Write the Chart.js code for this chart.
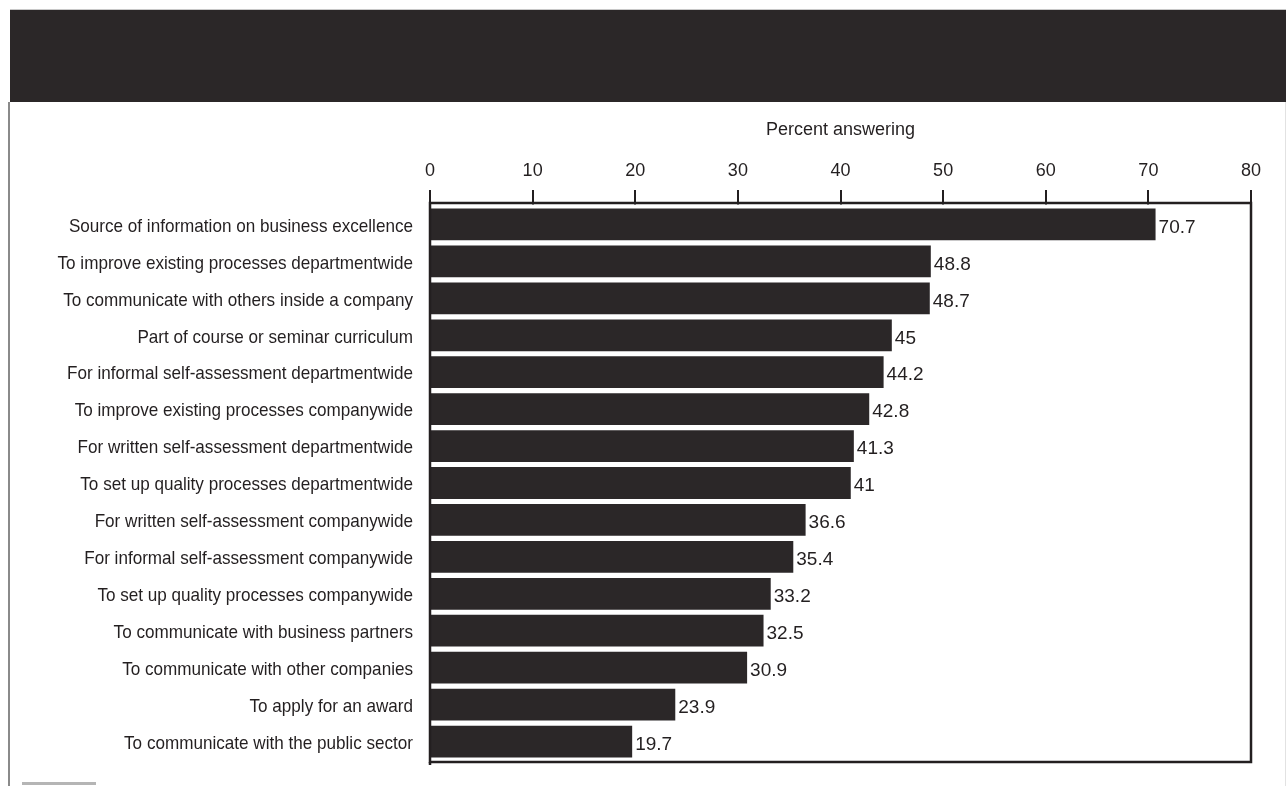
<!DOCTYPE html>
<html>
<head>
<meta charset="utf-8">
<script src="https://cdn.jsdelivr.net/npm/chart.js@4"></script>
<style>
  html, body { margin: 0; padding: 0; background: #fff; }
  body { width: 1286px; height: 786px; position: relative; overflow: hidden; }
  #band { position: absolute; left: 10px; top: 10px; width: 1276px; height: 92px; background: #2b2728; }
  #topline { position: absolute; left: 10px; top: 9px; width: 1276px; height: 1px; background: #c8c8c8; }
  #leftline { position: absolute; left: 8px; top: 102px; width: 2px; height: 684px; background: #8a8a8a; }
  #rightline { position: absolute; left: 1285px; top: 102px; width: 1px; height: 684px; background: #e2e2e2; }
  #stub { position: absolute; left: 22px; top: 782px; width: 74px; height: 3px; background: #b5b5b5; }
  #wrap { position: absolute; left: 10px; top: 102px; width: 1276px; height: 684px; }
</style>
</head>
<body>
<div id="topline"></div>
<div id="band"></div>
<div id="leftline"></div>
<div id="rightline"></div>
<div id="stub"></div>
<div id="wrap"><canvas id="chart"></canvas></div>
<script>
// Percent answering, by reason for use
const categories = [
  'Source of information on business excellence',
  'To improve existing processes departmentwide',
  'To communicate with others inside a company',
  'Part of course or seminar curriculum',
  'For informal self-assessment departmentwide',
  'To improve existing processes companywide',
  'For written self-assessment departmentwide',
  'To set up quality processes departmentwide',
  'For written self-assessment companywide',
  'For informal self-assessment companywide',
  'To set up quality processes companywide',
  'To communicate with business partners',
  'To communicate with other companies',
  'To apply for an award',
  'To communicate with the public sector'
];
const percents = [70.7, 48.8, 48.7, 45, 44.2, 42.8, 41.3, 41, 36.6, 35.4, 33.2, 32.5, 30.9, 23.9, 19.7];
const xTicks = [0, 10, 20, 30, 40, 50, 60, 70, 80];
const axisTitle = 'Percent answering';

const INK = '#231f20';
const BAR = '#2b2728';
const FONT = '"Liberation Sans", Arial, Helvetica, sans-serif';

// condensed category labels, numbers at bar ends, box round the plot
const labelsAndFrame = {
  id: 'labelsAndFrame',
  afterDatasetsDraw(chart) {
    const { ctx } = chart;
    const meta = chart.getDatasetMeta(0);
    ctx.save();
    ctx.fillStyle = INK;
    ctx.font = '19px ' + FONT;
    ctx.textAlign = 'left';
    ctx.textBaseline = 'middle';
    meta.data.forEach((bar, i) => {
      ctx.fillText(String(percents[i]), bar.x + 3, bar.y + 3);
    });
    ctx.restore();
  },
  afterDraw(chart) {
    const { ctx, chartArea: a } = chart;
    const yScale = chart.scales.y;

    ctx.save();
    ctx.fillStyle = INK;
    ctx.font = '19px ' + FONT;
    ctx.textAlign = 'right';
    ctx.textBaseline = 'middle';
    categories.forEach((c, i) => {
      const py = yScale.getPixelForTick(i);
      ctx.save();
      ctx.translate(yScale.right - 17, py + 2);
      ctx.scale(0.9, 1);
      ctx.fillText(c, 0, 0);
      ctx.restore();
    });

    // gap between the top rule and the first bar
    ctx.fillStyle = '#fff';
    ctx.fillRect(a.left + 2, a.top - 1.5, a.right - a.left - 4, 2.5);

    const top = a.top - 3, bottom = a.bottom + 2;
    ctx.strokeStyle = INK;
    ctx.lineWidth = 2.5;
    ctx.strokeRect(a.left, top, a.right - a.left, bottom - top);
    ctx.beginPath();
    ctx.moveTo(a.left, bottom);
    ctx.lineTo(a.left, bottom + 3);
    ctx.stroke();
    ctx.restore();
  }
};

new Chart(document.getElementById('chart'), {
  type: 'bar',
  data: {
    labels: categories,
    datasets: [{
      data: percents,
      backgroundColor: BAR,
      borderWidth: 0,
      categoryPercentage: 1,
      barPercentage: 0.86
    }]
  },
  options: {
    indexAxis: 'y',
    responsive: true,
    maintainAspectRatio: false,
    animation: false,
    layout: { padding: { left: 0, right: 35, top: 0, bottom: 26 } },
    scales: {
      x: {
        position: 'top',
        min: 0,
        max: 80,
        afterBuildTicks(scale) { scale.ticks = xTicks.map(v => ({ value: v })); },
        afterFit(scale) { scale.height = 104; },
        grid: { display: true, drawOnChartArea: false, drawTicks: true, tickLength: 16, color: INK, lineWidth: 2 },
        border: { display: false },
        ticks: { color: INK, padding: 8, font: { family: FONT, size: 18 } },
        title: { display: true, text: axisTitle, color: INK, padding: { top: 17, bottom: 0 }, font: { family: FONT, size: 18 } }
      },
      y: {
        afterFit(scale) { scale.width = 420; },
        grid: { display: false, drawTicks: false },
        border: { display: false },
        ticks: { display: false }
      }
    },
    plugins: {
      legend: { display: false },
      tooltip: { enabled: false }
    }
  },
  plugins: [labelsAndFrame]
});
</script>
</body>
</html>
